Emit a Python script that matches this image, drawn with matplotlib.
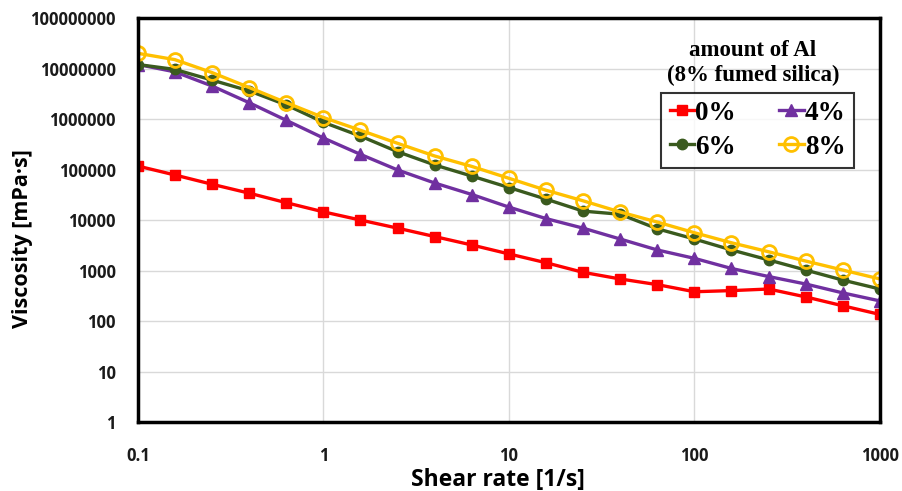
import numpy as np
import matplotlib
matplotlib.use("Agg")
import matplotlib.pyplot as plt

# -----------------------
# Data
# -----------------------

shear_rate = [0.1, 0.158, 0.251, 0.398, 0.631, 1, 1.58, 2.51, 3.98, 6.31,
              10, 15.8, 25.1, 39.8, 63.1, 100, 158, 251, 398, 631, 1000]

visc_0 = [117000, 78000, 51000, 34000, 22000, 14500, 10000, 6900, 4700, 3200,
          2130, 1430, 920, 680, 525, 380, 400, 430, 300, 200, 135]

visc_4 = [12000000, 8600000, 4500000, 2100000, 940000, 420000, 200000, 98000, 54000, 32000,
          18000, 10700, 6900, 4200, 2550, 1740, 1100, 760, 540, 360, 250]

visc_6 = [12000000, 9600000, 5900000, 3600000, 1900000, 860000, 460000, 225000, 123000, 74000,
          44000, 26000, 15000, 13000, 6700, 4200, 2560, 1620, 1020, 645, 430]

visc_8 = [20000000, 15000000, 8300000, 4200000, 2100000, 1070000, 600000, 330000, 185000, 115000,
          67000, 39000, 24000, 14400, 9100, 5600, 3550, 2350, 1540, 1020, 680]

labels = ["0%", "4%", "6%", "8%"]
y_ticks = [1, 10, 100, 1000, 10000, 100000, 1000000, 10000000, 100000000]
x_ticks = [0.1, 1, 10, 100, 1000]

# -----------------------
# Plot
# -----------------------

fig = plt.figure(figsize=(9.03, 4.91), dpi=100)
ax = fig.add_axes([0.1528, 0.1405, 0.8217, 0.8228])

h0, = ax.plot(shear_rate, visc_0, color="#FF0000", lw=2.4, marker="s", ms=6.5,
              label=labels[0])
h4, = ax.plot(shear_rate, visc_4, color="#7030A0", lw=2.4, marker="^", ms=8,
              label=labels[1])
h6, = ax.plot(shear_rate, visc_6, color="#3A5A1E", lw=2.4, marker="o", ms=7.5,
              label=labels[2])
h8, = ax.plot(shear_rate, visc_8, color="#FFC000", lw=2.4, marker="o", ms=10,
              mfc="none", mew=2, label=labels[3])

ax.set_xscale("log")
ax.set_yscale("log")
ax.set_xlim(0.1, 1000)
ax.set_ylim(1, 1e8)

ax.set_xticks(x_ticks)
ax.set_xticklabels([f"{v:g}" for v in x_ticks])
ax.set_yticks(y_ticks)
ax.set_yticklabels([str(v) for v in y_ticks])
ax.minorticks_off()
ax.tick_params(axis="y", length=0, pad=16)
ax.tick_params(axis="x", length=0, pad=18)

for lab in ax.get_xticklabels() + ax.get_yticklabels():
    lab.set_fontfamily("Open Sans")
    lab.set_fontweight("bold")
    lab.set_fontsize(12)
    lab.set_color("#1a1a1a")

ax.grid(True, color="#D9D9D9", lw=1)
ax.set_axisbelow(True)

for s in ax.spines.values():
    s.set_linewidth(2.5)
    s.set_color("black")

ax.set_xlabel("Shear rate [1/s]", fontfamily="Open Sans", fontweight="bold",
              fontsize=16.5)
ax.set_ylabel("Viscosity [mPa·s]", fontfamily="Open Sans", fontweight="bold",
              fontsize=15.5)
ax.xaxis.set_label_coords(0.485, -0.115)
ax.yaxis.set_label_coords(-0.1415, 0.453)

# legend title sits above the box
fig.text(0.833, 0.898, "amount of Al", ha="center", va="center",
         fontfamily="Liberation Serif", fontweight="bold", fontsize=16.5)
fig.text(0.834, 0.846, "(8% fumed silica)", ha="center", va="center",
         fontfamily="Liberation Serif", fontweight="bold", fontsize=16.5)

# row-wise order: 0%, 4% / 6%, 8%
leg = ax.legend([h0, h6, h4, h8], [labels[0], labels[2], labels[1], labels[3]],
                ncol=2, loc="upper left", bbox_to_anchor=(0.7055, 0.815),
                frameon=True, fancybox=False, borderaxespad=0,
                handlelength=0.9, handletextpad=0.05, columnspacing=1.6,
                labelspacing=0.32, borderpad=0.3,
                prop={"family": "Liberation Serif", "weight": "bold", "size": 19.5})
leg.get_frame().set_edgecolor("black")
leg.get_frame().set_linewidth(1.5)

fig.savefig("out.png", dpi=100)
print("Chart Saved!")
